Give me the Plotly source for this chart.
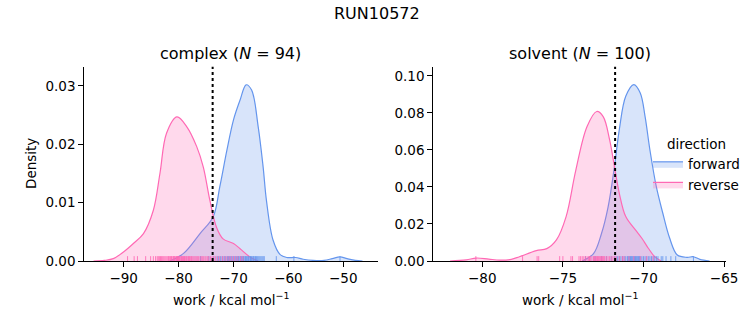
import plotly.graph_objects as go

# ---------------- data ----------------
suptitle = "RUN10572"
panel_titles = ["complex (<i>N</i> = 94)", "solvent (<i>N</i> = 100)"]
directions = ["forward", "reverse"]
colors = {"forward": "100,149,237", "reverse": "255,105,180"}

# KDE curves
complex_fwd_x = [-81.6, -79.1, -76.1, -73.7, -72.5, -71.2, -70.0, -68.8, -67.7, -66.7, -65.5, -64.6,
                 -64.0, -62.8, -61.5, -60.3, -58.7, -57.3, -55.5, -53.5, -52.0, -50.6, -49.3, -47.8, -46.5]
complex_fwd_y = [0.0, 0.0013, 0.0047, 0.0076, 0.0127, 0.019, 0.0242, 0.0276, 0.0302, 0.0293, 0.023, 0.0161,
                 0.0104, 0.0036, 0.0011, 0.0006, 0.0006, 0.0003, 0.0001, 0.0001, 0.0004, 0.0007, 0.0004, 0.0001, 0.0]
complex_rev_x = [-95.5, -93.5, -91.9, -90.1, -88.25, -86.4, -84.6, -83.4, -82.2, -80.3, -78.5, -76.7,
                 -75.5, -74.3, -73.1, -71.9, -70.0, -68.8, -67.0, -65.5]
complex_rev_y = [0.0, 0.0001, 0.0004, 0.0015, 0.003, 0.0047, 0.0087, 0.015, 0.0219, 0.0247, 0.023, 0.0196,
                 0.0161, 0.0104, 0.0058, 0.0038, 0.003, 0.0021, 0.0007, 0.0]
solvent_fwd_x = [-73.8, -73.1, -72.6, -72.2, -71.8, -71.5, -71.1, -70.6, -70.2, -69.9, -69.6, -69.2,
                 -68.8, -68.4, -67.9, -67.3, -66.9, -66.5, -65.9]
solvent_fwd_y = [0.0, 0.004, 0.015, 0.029, 0.051, 0.071, 0.089, 0.0953, 0.0908, 0.078, 0.060, 0.040,
                 0.0258, 0.013, 0.0032, 0.002, 0.0023, 0.0009, 0.0]
solvent_rev_x = [-82.0, -81.0, -80.37, -79.6, -78.9, -78.2, -77.7, -76.65, -76.0, -75.4, -74.8, -74.2,
                 -73.5, -72.9, -72.5, -72.1, -71.8, -71.5, -71.1, -70.5, -70.1, -69.7, -69.3, -68.9]
solvent_rev_y = [0.0, 0.0006, 0.0016, 0.001, 0.0005, 0.0009, 0.0023, 0.0056, 0.0067, 0.0114, 0.024, 0.049,
                 0.0727, 0.0808, 0.078, 0.0655, 0.051, 0.0366, 0.024, 0.0168, 0.0123, 0.0069, 0.0023, 0.0]

# individual work values (rug marks)
complex_fwd_rug = [-76.0, -74.5, -73.6, -73.0, -72.7, -72.4, -72.1, -71.9, -71.6, -71.4, -71.1, -70.9,
                   -70.7, -70.5, -70.3, -70.1, -69.9, -69.7, -69.5, -69.3, -69.1, -69.0, -68.8, -68.7,
                   -68.5, -68.4, -68.2, -68.1, -67.9, -67.8, -67.6, -67.5, -67.3, -67.2, -67.0, -66.9,
                   -66.7, -66.6, -66.4, -66.3, -66.1, -66.0, -65.8, -65.6, -65.4, -65.2, -65.0, -64.8,
                   -64.6, -64.4, -62.2, -59.0, -50.6]
complex_rev_rug = [-89.3, -88.1, -87.5, -86.0, -85.1, -84.6, -84.2, -83.9, -83.7, -83.5, -83.3, -83.1,
                   -82.9, -82.7, -82.5, -82.3, -82.1, -81.9, -81.8, -81.6, -81.5, -81.3, -81.2, -81.0,
                   -80.9, -80.8, -80.7, -80.5, -80.4, -80.3, -80.2, -80.1, -80.0, -79.9, -79.8, -79.6,
                   -79.5, -79.4, -79.3, -79.1, -79.0, -78.9, -78.8, -78.6, -78.5, -78.3, -78.2, -78.0,
                   -77.9, -77.7, -77.6, -77.4, -77.2, -77.0, -76.8, -76.6, -76.4, -76.1, -75.9, -75.7,
                   -75.5, -75.2, -75.0, -74.7, -74.5, -74.2, -73.9, -73.6, -73.3, -72.9, -72.5, -72.0,
                   -71.6, -71.2, -70.8, -70.4, -70.0, -69.6, -69.2, -68.7, -68.3]
solvent_fwd_rug = [-73.6, -73.0, -72.6, -72.3, -72.0, -71.8, -71.7, -71.6, -71.5, -71.4, -71.3, -71.2,
                   -71.1, -71.0, -70.95, -70.9, -70.85, -70.8, -70.75, -70.7, -70.65, -70.6, -70.55, -70.5,
                   -70.45, -70.4, -70.35, -70.3, -70.25, -70.2, -70.1, -70.0, -69.9, -69.8, -69.7, -69.6,
                   -69.5, -69.4, -69.3, -69.2, -69.1, -68.9, -68.8, -68.6, -68.3, -68.0, -66.9]
solvent_rev_rug = [-80.4, -77.5, -76.6, -76.5, -75.2, -75.0, -74.5, -74.4, -74.0, -73.9, -73.8, -73.7,
                   -73.6, -73.5, -73.4, -73.35, -73.3, -73.2, -73.1, -73.05, -73.0, -72.95, -72.9, -72.85,
                   -72.8, -72.75, -72.7, -72.65, -72.6, -72.55, -72.5, -72.45, -72.4, -72.3, -72.2, -72.1,
                   -72.0, -71.9, -71.8, -71.7, -71.5, -71.3, -71.2, -70.9, -70.6, -70.2, -69.8, -69.4]

# dotted reference lines
vline_values = [-73.8, -71.76]

x_ranges = [[-97.18, -43.73], [-83.04, -64.88]]
y_ranges = [[0, 0.0333], [0, 0.105]]
x_ticks = [[-90, -80, -70, -60, -50], [-80, -75, -70, -65]]
y_ticks = [[0.0, 0.01, 0.02, 0.03], [0.0, 0.02, 0.04, 0.06, 0.08, 0.10]]
x_label = "work / kcal mol<sup>−1</sup>"
y_label = "Density"

curves = [
    {"forward": (complex_fwd_x, complex_fwd_y, complex_fwd_rug),
     "reverse": (complex_rev_x, complex_rev_y, complex_rev_rug)},
    {"forward": (solvent_fwd_x, solvent_fwd_y, solvent_fwd_rug),
     "reverse": (solvent_rev_x, solvent_rev_y, solvent_rev_rug)},
]

FONT = "DejaVu Sans"
FS = 13.5
W, H = 753, 325
x_domains = [[84.3 / W, 377.7 / W], [433.3 / W, 726.0 / W]]
y_domain = [1 - 261.0 / H, 1 - 66.7 / H]

fig = go.Figure()

for i, panel in enumerate(curves):
    xa = "x" if i == 0 else "x2"
    ya = "y" if i == 0 else "y2"
    rug_h = 0.025 * (y_ranges[i][1] - y_ranges[i][0])
    for d in directions:
        xs, ys, rug = panel[d]
        c = colors[d]
        fig.add_trace(go.Scatter(
            x=xs, y=ys, mode="lines", xaxis=xa, yaxis=ya,
            line=dict(color=f"rgb({c})", width=1.2, shape="spline", smoothing=1.0),
            fill="tozeroy", fillcolor=f"rgba({c},0.25)",
            name=d, legendgroup=d, showlegend=(i == 1), hoverinfo="skip",
        ))
    for d in directions:
        xs, ys, rug = panel[d]
        c = colors[d]
        rx, ry = [], []
        for v in rug:
            rx += [v, v, None]
            ry += [0, rug_h, None]
        fig.add_trace(go.Scatter(
            x=rx, y=ry, mode="lines", xaxis=xa, yaxis=ya,
            line=dict(color=f"rgba({c},0.85)", width=1),
            showlegend=False, hoverinfo="skip",
        ))
    fig.add_shape(type="line", xref=xa, yref=f"{ya} domain",
                  x0=vline_values[i], x1=vline_values[i], y0=0, y1=1,
                  line=dict(color="black", width=2, dash="dot"))

axis_common = dict(
    showline=True, linecolor="black", linewidth=1.1, ticks="outside", ticklen=5, tickwidth=1.1,
    tickcolor="black", showgrid=False, zeroline=False, mirror=False, automargin=False,
    tickfont=dict(family=FONT, size=FS, color="black"),
)

layout = dict(
    width=W, height=H, margin=dict(l=0, r=0, t=0, b=0, autoexpand=False),
    paper_bgcolor="white", plot_bgcolor="rgba(0,0,0,0)",
    font=dict(family=FONT, color="black"),
    showlegend=True,
    legend=dict(
        x=648 / W, y=1 - 131 / H, xanchor="left", yanchor="top",
        bgcolor="rgba(0,0,0,0)", font=dict(family=FONT, size=FS, color="black"),
        title=dict(text="direction", side="top center", font=dict(family=FONT, size=FS)),
        tracegroupgap=0,
    ),
)
for i in range(2):
    sfx = "" if i == 0 else "2"
    layout["xaxis" + sfx] = dict(
        axis_common, domain=x_domains[i], range=x_ranges[i], tickvals=x_ticks[i],
        anchor="y" + sfx,
    )
    layout["yaxis" + sfx] = dict(
        axis_common, domain=y_domain, range=y_ranges[i], tickvals=y_ticks[i], tickformat=".2f",
        anchor="x" + sfx,
    )

fig.update_layout(**layout)

annotations = [
    dict(text=suptitle, x=377 / W, y=1 - 13 / H, xref="paper", yref="paper",
         showarrow=False, font=dict(family=FONT, size=16, color="black"), xanchor="center", yanchor="middle"),
    dict(text=y_label, x=31 / W, y=1 - 164 / H, xref="paper", yref="paper", textangle=-90,
         showarrow=False, font=dict(family=FONT, size=FS, color="black"), xanchor="center", yanchor="middle"),
]
for i in range(2):
    annotations.append(dict(text=panel_titles[i], x=sum(x_domains[i]) / 2, y=1 - 54 / H,
                            xref="paper", yref="paper", showarrow=False,
                            font=dict(family=FONT, size=16, color="black"),
                            xanchor="center", yanchor="middle"))
    annotations.append(dict(text=x_label, x=sum(x_domains[i]) / 2, y=1 - 299 / H,
                            xref="paper", yref="paper", showarrow=False,
                            font=dict(family=FONT, size=FS, color="black"),
                            xanchor="center", yanchor="middle"))
fig.update_layout(annotations=annotations)

fig.write_html("out.html")
